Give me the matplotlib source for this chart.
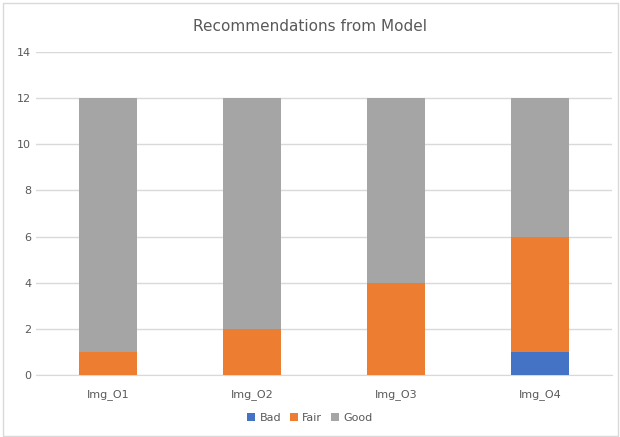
import matplotlib.pyplot as plt
import numpy as np
from matplotlib.patches import Rectangle

categories = ["Img_O1", "Img_O2", "Img_O3", "Img_O4"]
bad = [0, 0, 0, 1]
fair = [1, 2, 4, 5]
good = [11, 10, 8, 6]

colors = {"Bad": "#4472C4", "Fair": "#ED7D31", "Good": "#A5A5A5"}
txt = "#595959"

fig = plt.figure(figsize=(6.2, 4.37), dpi=100)
fig.patches.append(Rectangle((0.005, 0.003), 0.992, 0.99, transform=fig.transFigure,
                             fill=False, edgecolor="#D9D9D9", linewidth=1))
ax = fig.add_axes([0.058, 0.142, 0.929, 0.739])

x = np.arange(len(categories))
w = 0.4
b1 = np.array(bad)
b2 = b1 + np.array(fair)
ax.bar(x, bad, w, color=colors["Bad"], label="Bad", zorder=3)
ax.bar(x, fair, w, bottom=b1, color=colors["Fair"], label="Fair", zorder=3)
ax.bar(x, good, w, bottom=b2, color=colors["Good"], label="Good", zorder=3)

ax.set_xlim(-0.5, len(categories) - 0.5)
ax.set_ylim(0, 14)
ax.set_yticks(range(0, 15, 2))
ax.set_xticks(x)
ax.set_xticklabels(categories)
ax.grid(axis="y", color="#D9D9D9", linewidth=1, zorder=0)
for s in ["top", "right", "left"]:
    ax.spines[s].set_visible(False)
ax.spines["bottom"].set_color("#D9D9D9")
ax.tick_params(length=0, colors=txt, labelsize=8)
ax.tick_params(axis="x", pad=10)

fig.text(0.5, 0.94, "Recommendations from Model", ha="center", va="center",
         fontsize=11, color=txt)
fig.legend(loc="center", bbox_to_anchor=(0.5, 0.044), ncol=3, frameon=False,
           fontsize=8, labelcolor=txt, handlelength=0.7, handleheight=0.7,
           handletextpad=0.4, columnspacing=0.8)

fig.savefig("out.png", dpi=100)
